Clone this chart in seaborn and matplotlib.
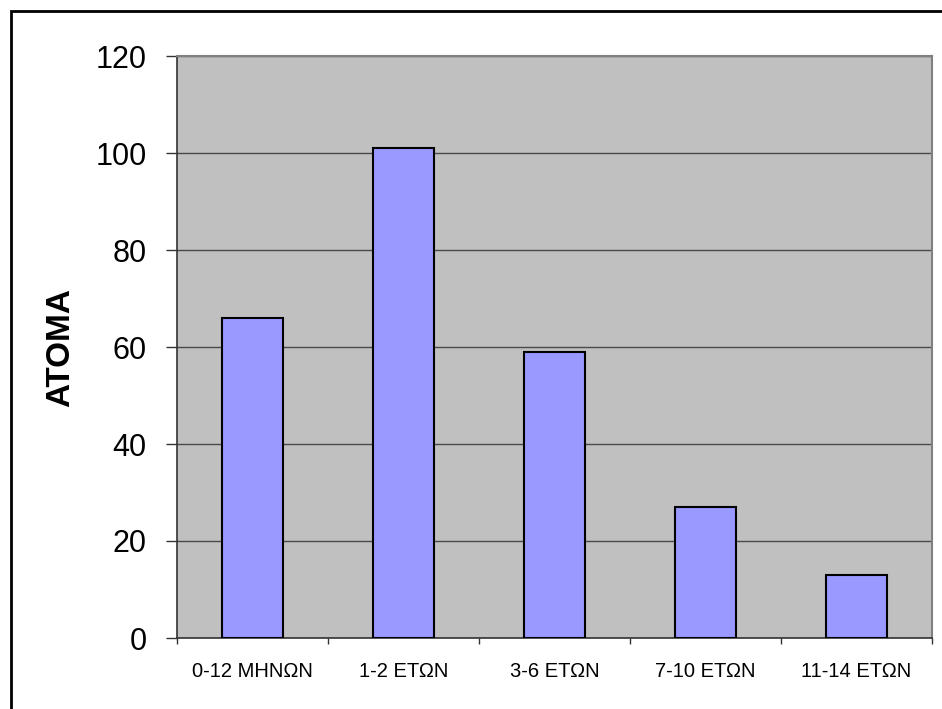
import numpy as np
import matplotlib
matplotlib.use("Agg")
import matplotlib.pyplot as plt
from matplotlib.patches import Rectangle
import seaborn as sns

# Δεδομένα
categories = ["0-12 ΜΗΝΩΝ", "1-2 ΕΤΩΝ", "3-6 ΕΤΩΝ", "7-10 ΕΤΩΝ", "11-14 ΕΤΩΝ"]
values = [66, 101, 59, 27, 13]
y_ticks = [0, 20, 40, 60, 80, 100, 120]

sns.set_style("white")
plt.rcParams['font.family'] = ['Liberation Sans', 'DejaVu Sans']
plt.rcParams.update({"text.color": "black", "axes.labelcolor": "black",
                     "xtick.color": "black", "ytick.color": "black"})

fig = plt.figure(figsize=(9.42, 7.09), dpi=100)
ax = fig.add_axes([177/942, 71/709, 755/942, 582/709])
ax.set_facecolor("#C0C0C0")

sns.barplot(x=categories, y=values, color="#9999FF", saturation=1,
            edgecolor="black", linewidth=1.5, width=0.4, ax=ax, zorder=3)

ax.set_ylim(0, 120)
ax.set_xlim(-0.5, 4.5)
ax.set_yticks(y_ticks)
ax.yaxis.grid(True, color="#4a4a4a", linewidth=1.0, zorder=1)
ax.set_axisbelow(True)

ax.tick_params(axis="y", left=True, direction="out", length=8, width=1, color="#333333",
               labelcolor="black", labelsize=22, pad=14)
ax.tick_params(axis="x", which="major", bottom=True, length=0, labelcolor="black",
               labelsize=14.5, pad=17)
ax.set_xticks(np.arange(-0.5, 5, 1), minor=True)
ax.tick_params(axis="x", which="minor", bottom=True, direction="out", length=4.5, width=1,
               color="#333333")

for s in ["top", "right"]:
    ax.spines[s].set_color("#808080")
    ax.spines[s].set_linewidth(1.5)
for s in ["left", "bottom"]:
    ax.spines[s].set_color("#333333")
    ax.spines[s].set_linewidth(1.2)

ax.set_xlabel("")
ax.set_ylabel("ΑΤΟΜΑ", fontsize=24, fontweight="bold", color="black")
ax.yaxis.set_label_coords(-0.133, 0.5)

# εξωτερικό πλαίσιο
fig.add_artist(Rectangle((10.5/942, -0.5), 2, 0.5 + 698.5/709, transform=fig.transFigure,
                         fill=False, edgecolor="black", linewidth=2))

fig.savefig("out.png", dpi=100)
